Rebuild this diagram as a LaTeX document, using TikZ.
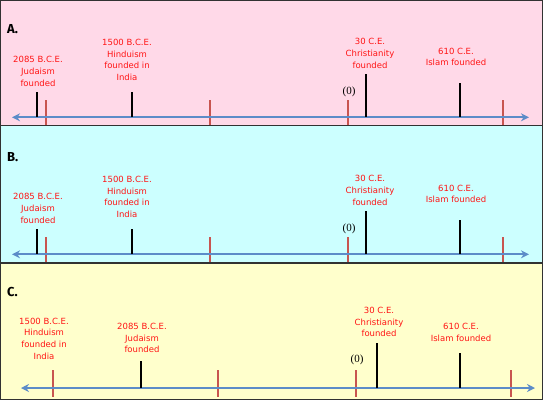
\documentclass[tikz,border=0pt]{standalone}
\usepackage{fontspec}
\setmainfont{DejaVu Sans}
\newfontfamily\zerofont{Liberation Serif}
\newfontfamily\letterfont{Fira Sans}
\usetikzlibrary{arrows.meta}
\definecolor{pinkbg}{RGB}{255,217,232}
\definecolor{cyanbg}{RGB}{204,255,255}
\definecolor{yellowbg}{RGB}{255,255,204}
\definecolor{axisblue}{RGB}{92,140,200}
\definecolor{tickred}{RGB}{200,85,80}
\definecolor{labelred}{RGB}{255,20,20}
\definecolor{framegray}{RGB}{50,50,50}
\newcommand\tlAB[2]{%
  % #1 prefix, #2 vertical offset
  \coordinate (#1L) at (12,{#2+117.3});
  \coordinate (#1R) at (529,{#2+117.3});
  \foreach \x/\n in {46/1,210/2,348/3,503/4}{
    \coordinate (#1r\n t) at (\x,{#2+100});
    \coordinate (#1r\n b) at (\x,{#2+125});
    \draw[redtick] (#1r\n t) -- (#1r\n b);
  }
  \draw[axis] (#1L) -- (#1R);
  \coordinate (#1Jt) at (37,{#2+92});   \coordinate (#1Jb) at (37,{#2+117.3});
  \coordinate (#1Ht) at (132,{#2+92});  \coordinate (#1Hb) at (132,{#2+117.3});
  \coordinate (#1Ct) at (366,{#2+74});  \coordinate (#1Cb) at (366,{#2+117.3});
  \coordinate (#1It) at (460,{#2+83});  \coordinate (#1Ib) at (460,{#2+117.3});
  \draw[blacktick] (#1Jt) -- (#1Jb);
  \draw[blacktick] (#1Ht) -- (#1Hb);
  \draw[blacktick] (#1Ct) -- (#1Cb);
  \draw[blacktick] (#1It) -- (#1Ib);
  \node[lbl] (#1J) at (38,{#2+71.5}) {2085 B.C.E.\\Judaism\\founded};
  \node[lbl] (#1H) at (127,{#2+60}) {1500 B.C.E.\\Hinduism\\founded in\\India};
  \node[lbl] (#1C) at (370,{#2+53.5}) {30 C.E.\\Christianity\\founded};
  \node[lbl] (#1I) at (456,{#2+57}) {610 C.E.\\Islam founded};
  \node[zero] (#1Z) at (349,{#2+92}) {(0)};
}
\begin{document}
\begin{tikzpicture}[x=1pt,y=-1pt,
  lbl/.style={text=labelred, font=\fontsize{8.5}{11.7}\selectfont, align=center, inner sep=0pt},
  letter/.style={font=\letterfont\fontsize{13}{13}\selectfont\bfseries, anchor=west, inner sep=0pt},
  zero/.style={font=\zerofont\fontsize{11}{12}\selectfont, inner sep=0pt},
  axis/.style={draw=axisblue, line width=2.2pt, {Stealth[length=8pt,width=8pt]}-{Stealth[length=8pt,width=8pt]}},
  redtick/.style={draw=tickred, line width=1.3pt},
  blacktick/.style={draw=black, line width=1.6pt},
  frame/.style={draw=framegray, line width=1.1pt}]
\useasboundingbox (0,0) rectangle (543,400);
\fill[pinkbg] (0,0) rectangle (543,125.5);
\fill[cyanbg] (0,125.5) rectangle (543,263);
\fill[yellowbg] (0,263) rectangle (543,400);
% panel A and B
\tlAB{a}{0}
\tlAB{b}{137}
\node[letter] (la) at (7,29.5) {A.};
\node[letter] (lb) at (7,157) {B.};
% panel C
\coordinate (cL) at (21,388);
\coordinate (cR) at (535,388);
\foreach \x/\n in {53/1,218/2,356/3,511/4}{
  \coordinate (cr\n t) at (\x,370);
  \coordinate (cr\n b) at (\x,397);
  \draw[redtick] (cr\n t) -- (cr\n b);
}
\draw[axis] (cL) -- (cR);
\coordinate (cJt) at (141,361);  \coordinate (cJb) at (141,388);
\coordinate (cCt) at (377,343);  \coordinate (cCb) at (377,388);
\coordinate (cIt) at (460,353);  \coordinate (cIb) at (460,388);
\draw[blacktick] (cJt) -- (cJb);
\draw[blacktick] (cCt) -- (cCb);
\draw[blacktick] (cIt) -- (cIb);
\node[lbl] (cH) at (44,338.5) {1500 B.C.E.\\Hinduism\\founded in\\India};
\node[lbl] (cJ) at (142,338) {2085 B.C.E.\\Judaism\\founded};
\node[lbl] (cC) at (379,322) {30 C.E.\\Christianity\\founded};
\node[lbl] (cI) at (461,332.5) {610 C.E.\\Islam founded};
\node[zero] (cZ) at (357,360) {(0)};
\node[letter] (lc) at (7,292) {C.};
% frames
\draw[frame] (0.6,0.6) rectangle (542.4,125.5);
\draw[frame] (0.6,125.5) rectangle (542.4,263);
\draw[frame] (0.6,263) rectangle (542.4,399.4);
\end{tikzpicture}
\end{document}
